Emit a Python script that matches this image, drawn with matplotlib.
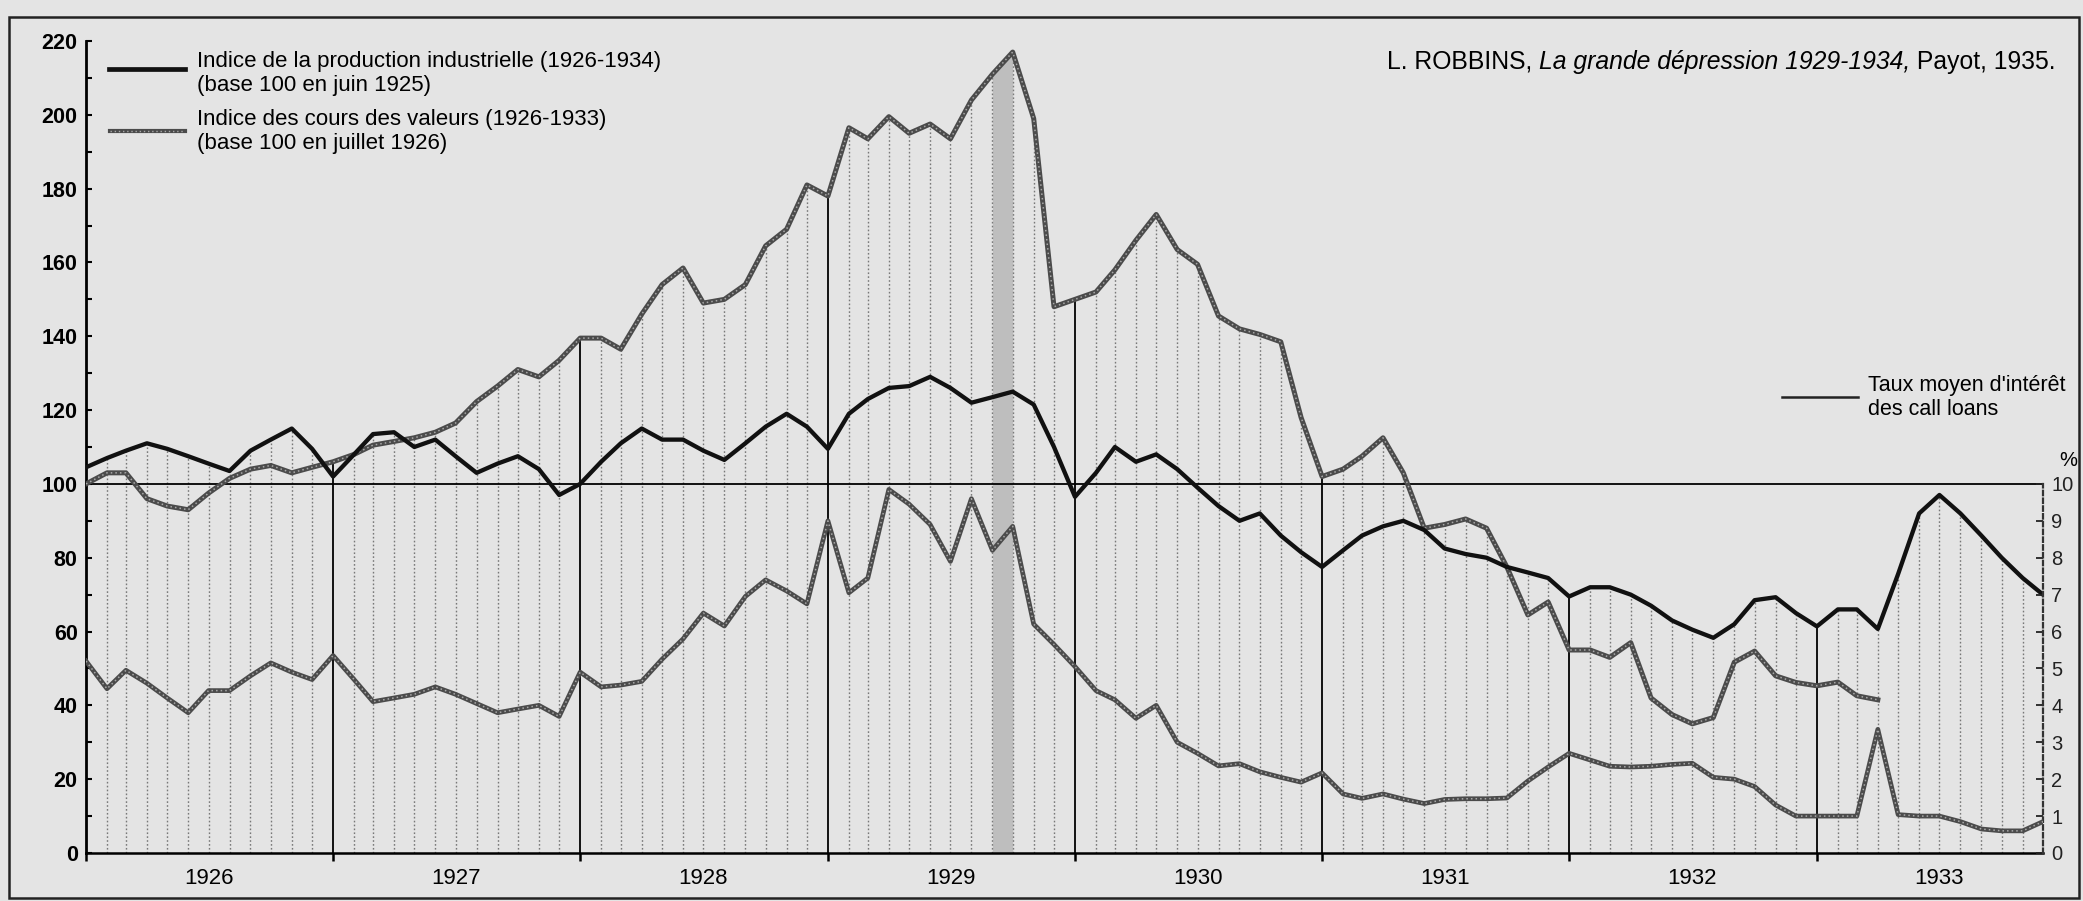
import numpy as np
import pandas as pd
import matplotlib
matplotlib.use("Agg")
import matplotlib.pyplot as plt
import matplotlib.dates as mdates
from matplotlib.lines import Line2D
from matplotlib.patches import Rectangle

plt.rcParams["font.family"] = ["Liberation Sans", "DejaVu Sans"]

# --- data (monthly, Jan 1926 -> Dec 1933) ---
mois = pd.date_range("1926-01-01", "1933-12-01", freq="MS")
annees = [1926, 1927, 1928, 1929, 1930, 1931, 1932, 1933]

# Indice de la production industrielle (base 100 en juin 1925)
production = [
    104.5, 107, 109, 111, 109.5, 107.5, 105.5, 103.5, 109, 112, 115, 109.5,   # 1926
    102, 108, 113.5, 114, 110, 112, 107.5, 103, 105.5, 107.5, 104, 97,        # 1927
    100, 106, 111, 115, 112, 112, 109, 106.5, 111, 115.5, 119, 115.5,         # 1928
    109.5, 119, 123, 126, 126.5, 129, 126, 122, 123.5, 125, 121.5, 110,       # 1929
    96.5, 103, 110, 106, 108, 104, 99, 94, 90, 92, 86, 81.5,                  # 1930
    77.5, 82, 86, 88.5, 90, 87.5, 82.5, 81, 80, 77.5, 76, 74.5,               # 1931
    69.5, 72, 72, 70, 67, 63, 60.5, 58.3, 62, 68.5, 69.3, 65,                 # 1932
    61.4, 66, 66, 60.7, 75.6, 92, 97, 92, 86, 80, 74.5, 70,                   # 1933
]

# Indice des cours des valeurs (base 100 en juillet 1926), stops in April 1933
cours = [
    100, 103, 103, 96, 94, 93, 97.5, 101.5, 104, 105, 103, 104.5,             # 1926
    106, 108, 110.5, 111.5, 112.5, 114, 116.5, 122.3, 126.5, 131, 129, 133.5, # 1927
    139.5, 139.5, 136.5, 146, 154, 158.5, 149, 150, 154, 164.5, 169, 181,     # 1928
    178, 196.5, 193.5, 199.5, 195, 197.5, 193.5, 204, 211, 217, 199, 148,     # 1929
    150, 152, 158, 166, 173, 163.5, 159.5, 145.5, 142, 140.5, 138.5, 118,     # 1930
    102, 104, 107.5, 112.5, 103, 88, 89, 90.5, 88, 77.5, 64.5, 68,            # 1931
    55, 55, 53, 57, 42, 37.5, 35, 36.7, 51.7, 54.7, 48, 46.2,                 # 1932
    45.3, 46.3, 42.6, 41.5,                                                   # 1933
] + [np.nan] * 8

# Taux moyen d'interet des call loans (%)
call_loans = [
    5.2, 4.45, 4.95, 4.6, 4.2, 3.8, 4.4, 4.4, 4.8, 5.15, 4.9, 4.7,            # 1926
    5.35, 4.7, 4.1, 4.2, 4.3, 4.5, 4.3, 4.05, 3.8, 3.9, 4.0, 3.7,             # 1927
    4.9, 4.5, 4.55, 4.65, 5.25, 5.8, 6.5, 6.15, 6.95, 7.4, 7.1, 6.75,         # 1928
    9.0, 7.05, 7.45, 9.85, 9.45, 8.9, 7.9, 9.6, 8.2, 8.85, 6.2, 5.65,         # 1929
    5.05, 4.4, 4.15, 3.65, 4.0, 3.0, 2.7, 2.36, 2.42, 2.2, 2.05, 1.92,        # 1930
    2.17, 1.6, 1.48, 1.6, 1.46, 1.34, 1.45, 1.47, 1.47, 1.49, 1.95, 2.33,     # 1931
    2.7, 2.52, 2.35, 2.33, 2.35, 2.4, 2.43, 2.05, 2.0, 1.8, 1.3, 1.0,         # 1932
    1.0, 1.0, 1.0, 3.35, 1.04, 1.0, 1.0, 0.85, 0.65, 0.6, 0.6, 0.85,          # 1933
]
krach = "1929-09-01"   # shaded band: Sept-Oct 1929

bg = "#e4e4e4"
gris = "#4b4b4b"

prod = np.array(production)
crs = np.array(cours)
call = np.array(call_loans)
# upper envelope of the three curves (call loans: 1 % = 10 index points)
env = np.nanmax(np.vstack([prod, crs, call * 10]), axis=0)

W, H = 2083, 901
fig = plt.figure(figsize=(W / 100, H / 100), dpi=100, facecolor=bg)
ax = fig.add_axes([86 / W, 48 / H, (2043 - 86) / W, (853 - 41) / H], facecolor=bg)
ax.set_xlim(mois[0], mois[-1])
ax.set_ylim(0, 220)

# monthly hatching + year lines up to the highest curve
janv = mois.month == 1
ax.vlines(mois[~janv], 0, env[~janv], colors="#787878",
          linestyles=(0, (1.2, 1.6)), lw=1.0, zorder=1)
ax.vlines(mois[janv][1:], 0, env[janv][1:], colors="k", lw=1.3, zorder=2)
ax.axhline(100, color="k", lw=1.3, zorder=2)

i = mois.get_loc(pd.Timestamp(krach))
ax.fill_between(mois[i:i + 2], 0, crs[i:i + 2], color="#9a9a9a",
                alpha=0.5, lw=0, zorder=1.5)

ax.plot(mois, crs, color=gris, lw=3.6, zorder=3)
ax.plot(mois, crs, color="#a8a8a8", lw=1.1, ls=(0, (1, 2)), zorder=3.1)
ax.plot(mois, prod, color="#111111", lw=3.1, zorder=4)

ax2 = ax.twinx()
ax2.set_ylim(0, 22)
ax2.plot(mois, call, color=gris, lw=3.4, zorder=3)
ax2.plot(mois, call, color="#a8a8a8", lw=1.1, ls=(0, (1, 2)), zorder=3.1)

# axes styling
for s in ["top", "right"]:
    ax.spines[s].set_visible(False)
ax.spines["left"].set_linewidth(2.0)
ax.spines["bottom"].set_linewidth(1.8)
for s in ["top", "left", "bottom"]:
    ax2.spines[s].set_visible(False)
ax2.spines["right"].set_bounds(0, 10)
ax2.spines["right"].set_linestyle((0, (2, 1.5)))
ax2.spines["right"].set_linewidth(1.6)
ax2.spines["right"].set_color("#333333")

ax.set_yticks(range(0, 221, 20))
ax.set_yticks(range(0, 221, 10), minor=True)
ax.tick_params(axis="y", which="both", direction="in", length=4.5, width=1.5,
               labelsize=15.5, pad=6)
for lab in ax.get_yticklabels():
    lab.set_fontweight("bold")

ax.xaxis.set_major_locator(mdates.YearLocator())
ax.xaxis.set_major_formatter(plt.NullFormatter())
ax.xaxis.set_minor_locator(mdates.MonthLocator(bymonth=7))
ax.xaxis.set_minor_formatter(mdates.DateFormatter("%Y"))
ax.tick_params(axis="x", which="major", direction="out", length=6, width=1.8)
ax.tick_params(axis="x", which="minor", length=0, labelsize=16, pad=11)

ax2.set_yticks(range(0, 11))
ax2.tick_params(axis="y", direction="in", length=5, width=1.3,
                labelsize=14.5, pad=6, colors="#222222")
fig.text(2068 / W, 1 - 461 / H, "%", ha="center", va="center", fontsize=14.5)

# legends
fig.add_artist(Line2D([109 / W, 185 / W], [1 - 69 / H] * 2, color="#111111", lw=3.4))
fig.add_artist(Line2D([110 / W, 185 / W], [1 - 131 / H] * 2, color=gris, lw=3.0))
fig.add_artist(Line2D([110 / W, 185 / W], [1 - 131 / H] * 2, color="#a8a8a8",
                      lw=1.0, ls=(0, (1, 2))))
legende = [
    (62, "Indice de la production industrielle (1926-1934)"),
    (86, "(base 100 en juin 1925)"),
    (119, "Indice des cours des valeurs (1926-1933)"),
    (143, "(base 100 en juillet 1926)"),
]
for y, t in legende:
    fig.text(197 / W, 1 - y / H, t, va="center", fontsize=16)

fig.add_artist(Line2D([1782 / W, 1858 / W], [1 - 397 / H] * 2, color="#222222", lw=1.8))
fig.text(1868 / W, 1 - 386 / H, "Taux moyen d'intérêt", va="center", fontsize=15.5)
fig.text(1868 / W, 1 - 410 / H, "des call loans", va="center", fontsize=15.5)

# source line, mixed roman / italic
src = dict(fontsize=17.8)
t3 = fig.text(2056 / W, 1 - 62 / H, " Payot, 1935.", ha="right", va="center", **src)
t2 = ax.annotate("La grande dépression 1929-1934,", xy=(0, 0), xycoords=t3,
                 ha="right", va="bottom", style="italic",
                 annotation_clip=False, **src)
ax.annotate("L. ROBBINS, ", xy=(0, 0), xycoords=t2, ha="right", va="bottom",
            annotation_clip=False, **src)

fig.add_artist(Rectangle((9 / W, 3 / H), 1 - 13 / W, 1 - 20 / H,
                         transform=fig.transFigure, fill=False, lw=1.8,
                         edgecolor="#222222"))

fig.savefig("out.png", dpi=100, facecolor=bg)
